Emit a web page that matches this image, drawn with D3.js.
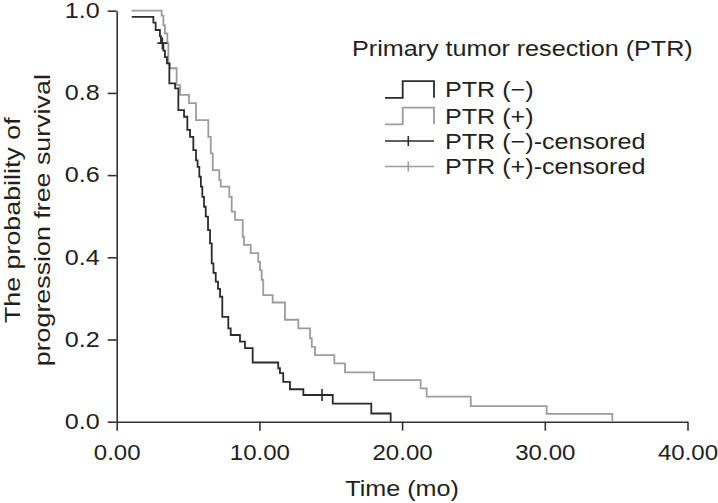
<!DOCTYPE html>
<html>
<head>
<meta charset="utf-8">
<script src="https://cdn.jsdelivr.net/npm/d3@7"></script>
<style>
body{margin:0;background:#fff}
svg text{font-family:"Liberation Sans",Arial,sans-serif;fill:#231f20}
</style>
</head>
<body>
<svg id="chart" width="718" height="503"></svg>
<script>
// PTR (-) : step times (mo) and survival after each step (first entry = start of curve)
const negTimes = [1.05,2.57,2.73,3.03,3.10,3.27,3.38,3.52,3.69,4.09,4.32,4.72,4.95,5.14,5.37,5.56,5.67,5.79,5.90,6.00,6.12,6.24,6.40,6.54,6.66,6.78,6.94,7.10,7.24,7.40,7.82,7.99,8.64,8.99,9.53,11.32,11.44,11.67,12.14,13.08,15.14,17.84,19.20];
const negSurv  = [0.985,0.971,0.953,0.938,0.921,0.903,0.887,0.872,0.823,0.811,0.758,0.742,0.710,0.693,0.661,0.636,0.620,0.596,0.572,0.547,0.523,0.499,0.466,0.434,0.385,0.362,0.341,0.323,0.304,0.255,0.227,0.211,0.195,0.179,0.144,0.130,0.118,0.097,0.079,0.065,0.044,0.020,0];
const negCensTimes = [3.2,14.39];
const negCensSurv  = [0.921,0.065];
// PTR (+)
const posTimes = [1.05,3.15,3.27,3.38,3.55,3.62,3.73,4.20,4.44,5.07,5.56,6.42,6.59,6.73,7.19,7.29,7.89,8.06,8.29,8.83,8.92,9.39,9.92,10.04,10.16,10.27,10.93,11.79,12.73,13.55,13.67,13.90,15.25,16.00,18.03,21.30,21.72,24.81,30.13,34.73];
const posSurv  = [1,0.988,0.965,0.945,0.921,0.872,0.860,0.819,0.795,0.775,0.734,0.693,0.653,0.612,0.588,0.572,0.547,0.511,0.491,0.450,0.430,0.410,0.389,0.369,0.345,0.308,0.290,0.248,0.227,0.203,0.182,0.162,0.142,0.120,0.101,0.081,0.061,0.038,0.019,0];
const xTicks = [0,10,20,30,40];
const yTicks = [0,0.2,0.4,0.6,0.8,1.0];
const legendTitle = 'Primary tumor resection (PTR)';
const legendLabels = ['PTR (\u2212)','PTR (+)','PTR (\u2212)-censored','PTR (+)-censored'];

const dark = '#2b2b2b', grey = '#9c9c9c', fs = 21.5, sx = 1.17; // the figure's font runs wide
const svg = d3.select('#chart');
const x = d3.scaleLinear().domain([0,40]).range([116.7,687.5]);
const y = d3.scaleLinear().domain([0,1]).range([421.7,10.7]);

// axes
const gx = svg.append('g').attr('transform','translate(0,'+y(0)+')')
  .call(d3.axisBottom(x).tickValues(xTicks).tickFormat(d3.format('.2f')).tickSizeInner(9).tickSizeOuter(0).tickPadding(14));
const gy = svg.append('g').attr('transform','translate('+x(0)+',0)')
  .call(d3.axisLeft(y).tickValues(yTicks).tickFormat(d3.format('.1f')).tickSizeInner(9).tickSizeOuter(0).tickPadding(8));
[gx,gy].forEach(g=>{g.selectAll('path,line').attr('stroke','#333').attr('stroke-width',1.6);
  g.selectAll('text').attr('font-size',fs).attr('font-family',null);});
gx.selectAll('text').attr('transform','scale(1.12,1)');
gy.selectAll('text').attr('transform','scale('+sx+',1)').attr('x',-17/sx);

svg.append('text').attr('transform','translate('+((x(0)+x(40))/2)+',496) scale('+sx+',1)').attr('text-anchor','middle').attr('font-size',fs).text('Time (mo)');
const yl = svg.append('text').attr('transform','translate(0,'+((y(0)+y(1))/2+4)+') rotate(-90) scale(1.22,1)').attr('text-anchor','middle').attr('font-size',22);
yl.append('tspan').attr('x',0).attr('y',19.5).text('The probability of');
yl.append('tspan').attr('x',0).attr('y',50.5).text('progression free survival');

// curves
const line = d3.line().x(d=>x(d[0])).y(d=>y(d[1])).curve(d3.curveStepAfter);
const series = [
  {t:negTimes,s:negSurv,c:dark,ct:negCensTimes,cs:negCensSurv},
  {t:posTimes,s:posSurv,c:grey,ct:[],cs:[]}
];
series.slice().reverse().forEach(d=>{
  svg.append('path').datum(d.t.map((t,i)=>[t,d.s[i]])).attr('d',line)
    .attr('fill','none').attr('stroke',d.c).attr('stroke-width',1.8);
  svg.selectAll(null).data(d.ct.map((t,i)=>[t,d.cs[i]])).join('path')
    .attr('d',p=>'M'+(x(p[0])-5)+','+y(p[1])+'h10M'+x(p[0])+','+(y(p[1])-6)+'v12')
    .attr('stroke',d.c).attr('stroke-width',1.6);
});

// legend
svg.append('text').attr('transform','translate(352,48) scale('+sx+',1)').attr('dy','0.35em').attr('font-size',fs).text(legendTitle);
const rowY = [89.5,116,141,166.5];
const lg = svg.append('g').selectAll('g').data(legendLabels).join('g').attr('transform',(d,i)=>'translate(0,'+rowY[i]+')');
lg.append('text').attr('transform','translate(445,0) scale('+sx+',1)').attr('dy','0.35em').attr('font-size',fs).text(d=>d);
lg.filter((d,i)=>i<2).append('path').attr('d','M385,8.3H402.7V-8.3H434V8.3')
  .attr('fill','none').attr('stroke',(d,i)=>i===0?dark:grey).attr('stroke-width',1.8);
lg.filter((d,i)=>i>=2).append('path').attr('d','M385,0H434M408.3,-5V5')
  .attr('fill','none').attr('stroke',(d,i)=>i===0?dark:grey).attr('stroke-width',1.6);
</script>
</body>
</html>
